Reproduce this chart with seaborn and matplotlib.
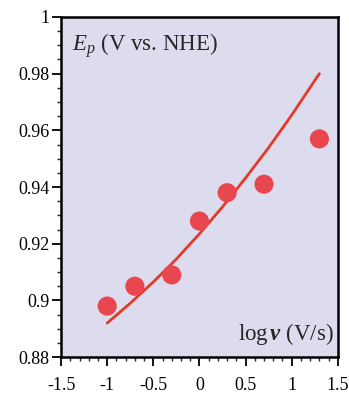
import matplotlib
matplotlib.use("Agg")
import matplotlib.pyplot as plt
import seaborn as sns
import pandas as pd
from matplotlib.ticker import MultipleLocator, FuncFormatter

# Data
log_v = [-1.0, -0.7, -0.3, 0.0, 0.3, 0.7, 1.3]
ep = [0.898, 0.905, 0.909, 0.928, 0.938, 0.941, 0.957]

fit_x = [-1.0, -0.75, -0.5, -0.25, 0.0, 0.25, 0.5, 0.75, 1.0, 1.3]
fit_y = [0.892, 0.899, 0.9065, 0.9146, 0.9235, 0.933, 0.9432, 0.9539, 0.9654, 0.980]

x_ticks = [-1.5, -1, -0.5, 0, 0.5, 1, 1.5]
y_ticks = [0.88, 0.9, 0.92, 0.94, 0.96, 0.98, 1.0]

sns.set_theme(style="ticks")
plt.rcParams['font.family'] = ['Liberation Serif', 'DejaVu Serif']
plt.rcParams['mathtext.fontset'] = 'custom'
plt.rcParams['mathtext.rm'] = 'Liberation Serif'
plt.rcParams['mathtext.it'] = 'Liberation Serif:italic'
plt.rcParams['mathtext.bf'] = 'Liberation Serif:bold'
plt.rcParams['mathtext.bfit'] = 'Liberation Serif:italic:bold'
plt.rcParams['axes.unicode_minus'] = False

fig = plt.figure(figsize=(3.49, 3.95), dpi=100)
ax = fig.add_axes([0.175, 0.096, 0.793, 0.861])
ax.set_facecolor('#dcdcee')

df_pts = pd.DataFrame({'x': log_v, 'y': ep})
df_fit = pd.DataFrame({'x': fit_x, 'y': fit_y})

sns.lineplot(data=df_fit, x='x', y='y', ax=ax, color='#e23a26', lw=2.0, zorder=2)
sns.scatterplot(data=df_pts, x='x', y='y', ax=ax, color='#e8474f', s=190,
                edgecolor='none', zorder=3)

ax.set_xlim(-1.5, 1.5)
ax.set_ylim(0.88, 1.0)
ax.set_xticks(x_ticks)
ax.set_yticks(y_ticks)
ax.xaxis.set_minor_locator(MultipleLocator(0.1))
ax.yaxis.set_minor_locator(MultipleLocator(0.005))
ax.xaxis.set_major_formatter(FuncFormatter(lambda v, p: '%g' % v))
ax.yaxis.set_major_formatter(FuncFormatter(lambda v, p: '%g' % round(v, 3)))
ax.set_xlabel('')
ax.set_ylabel('')

for s in ax.spines.values():
    s.set_linewidth(1.8)
    s.set_color('black')

ax.tick_params(axis='both', which='major', direction='out', length=6.5, width=1.3,
               labelsize=13, colors='black')
ax.tick_params(axis='both', which='minor', direction='out', length=3, width=1.0)
ax.tick_params(axis='x', which='major', pad=7.5)
ax.tick_params(axis='y', which='major', pad=2)

ax.text(0.04, 0.915, r'$E_p$ (V vs. NHE)', transform=ax.transAxes, fontsize=16.5,
        ha='left', va='center')
ax.text(0.985, 0.03, r'log$\,\mathbfit{v}$ (V/s)', transform=ax.transAxes, fontsize=16.5,
        ha='right', va='bottom')

fig.savefig('out.png', dpi=100)
